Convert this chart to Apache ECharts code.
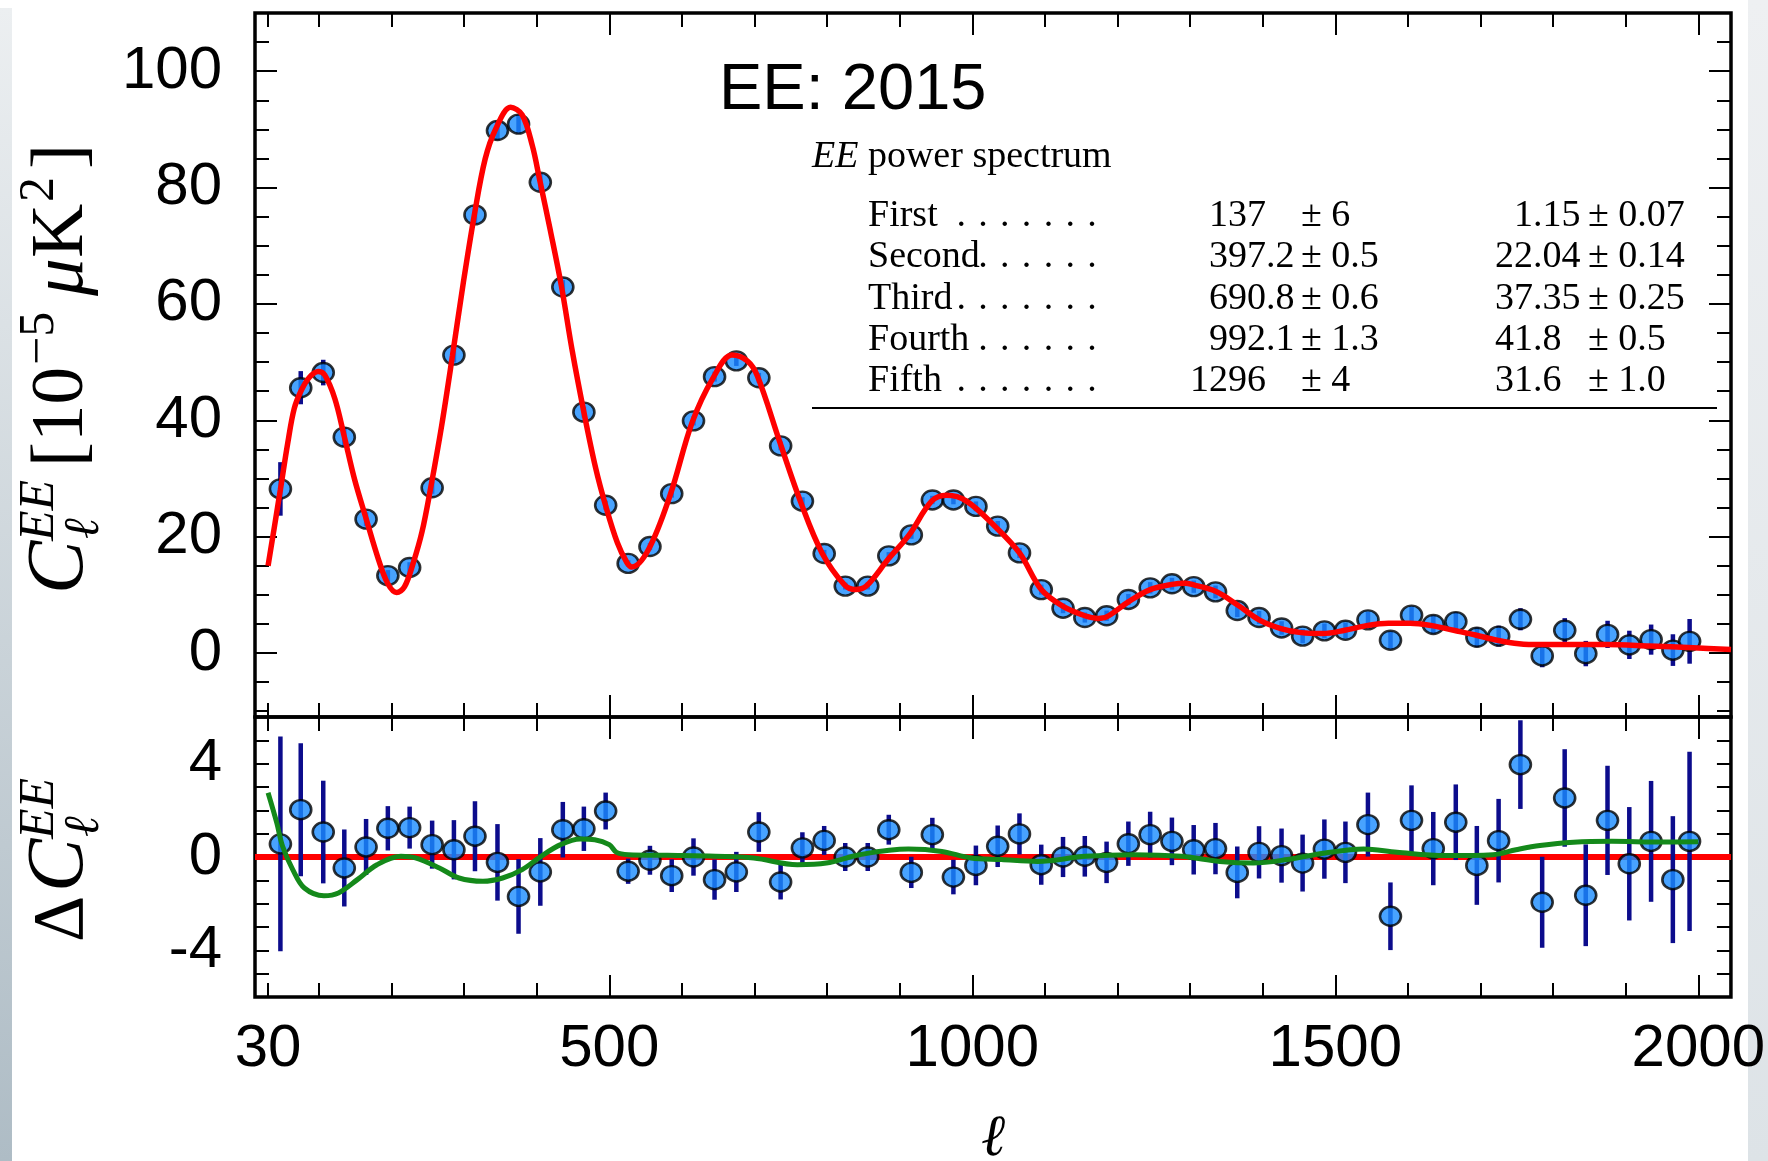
<!DOCTYPE html>
<html>
<head>
<meta charset="utf-8">
<title>EE: 2015</title>
<script src="https://cdn.jsdelivr.net/npm/echarts@6/dist/echarts.min.js"></script>
<style>
  html, body { margin: 0; padding: 0; background: #fff; }
  #chart { width: 1768px; height: 1161px; }
</style>
</head>
<body>
<div id="chart"></div>
<script>
// binned EE band powers
const ell = [47, 75, 106, 135, 165, 195, 225, 256, 286, 315, 346, 375, 405, 436, 465, 495, 526, 556, 586, 616,
  645, 675, 706, 736, 766, 796, 825, 856, 885, 916, 945, 974, 1005, 1035, 1065, 1095, 1125, 1155, 1185, 1215,
  1245, 1275, 1305, 1335, 1365, 1395, 1426, 1455, 1485, 1514, 1545, 1576, 1605, 1635, 1666, 1695, 1725, 1755, 1785, 1816,
  1845, 1875, 1905, 1935, 1965, 1988];
const clEE = [28.2, 45.6, 48.2, 37.1, 23.0, 13.3, 14.7, 28.4, 51.2, 75.3, 89.8, 90.9, 80.9, 62.9, 41.4, 25.4, 15.4, 18.3, 27.4, 39.9,
  47.5, 50.2, 47.3, 35.6, 26.1, 17.1, 11.5, 11.5, 16.7, 20.3, 26.3, 26.3, 25.2, 21.8, 17.2, 10.9, 7.7, 6.1, 6.4, 9.2,
  11.2, 11.9, 11.4, 10.5, 7.3, 6.1, 4.3, 2.9, 3.8, 3.9, 5.7, 2.2, 6.5, 4.9, 5.4, 2.7, 2.9, 5.8, -0.5, 3.9,
  -0.1, 3.2, 1.4, 2.3, 0.5, 2.0];
const clErr = [4.6, 2.85, 2.2, 1.65, 1.2, 0.95, 0.9, 1.03, 1.27, 1.5, 1.64, 1.6, 1.45, 1.19, 0.95, 0.79, 0.54, 0.62, 0.7, 0.8,
  0.86, 0.86, 0.85, 0.75, 0.67, 0.62, 0.6, 0.6, 0.64, 0.67, 0.72, 0.74, 0.85, 0.89, 0.88, 0.86, 0.86, 0.87, 0.89, 0.95,
  0.98, 1.02, 1.06, 1.1, 1.11, 1.12, 1.16, 1.22, 1.27, 1.32, 1.37, 1.45, 1.5, 1.57, 1.62, 1.69, 1.79, 1.9, 1.95, 2.09,
  2.18, 2.34, 2.43, 2.59, 2.72, 3.84];
const dClEE = [0.56, 2.03, 1.07, -0.47, 0.43, 1.23, 1.26, 0.53, 0.31, 0.89, -0.23, -1.69, -0.64, 1.17, 1.21, 1.97, -0.61, -0.14, -0.8, 0,
  -0.97, -0.64, 1.07, -1.07, 0.39, 0.71, 0, 0, 1.17, -0.66, 0.96, -0.86, -0.36, 0.46, 0.99, -0.33, 0, 0.03, -0.23, 0.57,
  0.96, 0.67, 0.31, 0.36, -0.66, 0.2, 0.06, -0.26, 0.34, 0.2, 1.39, -2.54, 1.57, 0.36, 1.49, -0.36, 0.7, 3.96, -1.94, 2.53,
  -1.64, 1.57, -0.29, 0.67, -0.97, 0.67];

// best-fit model (red) and the green residual curve
const modelEll = [30, 39, 47, 57, 66, 76, 87, 99, 108, 122, 135, 149, 165, 182, 195, 207, 218, 230, 242, 254,
  269, 284, 299, 314, 329, 344, 364, 380, 394, 404, 419, 434, 449, 465, 481, 495, 511, 524, 531, 554,
  584, 614, 643, 669, 690, 704, 735, 764, 793, 824, 839, 854, 884, 913, 944, 965, 992, 1031, 1065, 1095,
  1125, 1155, 1173, 1185, 1215, 1245, 1275, 1293, 1305, 1335, 1365, 1395, 1425, 1453, 1483, 1513, 1543, 1573, 1603, 1633,
  1663, 1693, 1723, 1753, 1783, 1813, 1873, 1933, 1993, 2045];
const modelCl = [15.0, 21.9, 28.1, 36, 42, 45.2, 47.4, 48.4, 47.8, 43.7, 37.2, 29.9, 23.1, 16.1, 11.9, 10.4, 11.4, 15.5, 20.8, 28.4,
  39, 51.1, 63.7, 75.2, 84.9, 90.2, 93.8, 92.5, 87.2, 81.4, 72.5, 63.1, 51.9, 41.4, 31.9, 25.3, 19.0, 15.6, 14.8, 17.8,
  27.2, 39.6, 47.3, 51.2, 50.2, 47.6, 36.2, 25.8, 17.2, 11.7, 10.9, 11.5, 16.1, 20.3, 26.1, 27.1, 26.1, 21.8, 17.2, 10.9,
  8.0, 6.4, 5.95, 6.2, 8.8, 10.9, 11.8, 12.0, 11.7, 10.6, 8.3, 5.7, 4.2, 3.5, 3.35, 3.9, 4.7, 5.1, 5.1, 4.7,
  3.9, 3.1, 2.2, 1.6, 1.45, 1.45, 1.45, 1.2, 0.9, 0.6];
const greenEll = [30, 42, 50, 64, 80, 107, 127, 153, 180, 213, 233, 266, 293, 326, 353, 380, 406, 433, 460, 480,
  500, 510, 526, 580, 646, 699, 759, 799, 845, 912, 958, 998, 1040, 1090, 1156, 1222, 1288, 1341, 1387, 1434,
  1486, 1539, 1585, 1651, 1717, 1749, 1782, 1828, 1881, 1947, 2000];
const greenDelta = [2.75, 1.46, 0.46, -0.54, -1.33, -1.66, -1.54, -0.97, -0.33, 0.03, -0.04, -0.47, -0.9, -1.04, -0.9, -0.54, 0.03, 0.53, 0.77, 0.74,
  0.53, 0.2, 0.1, 0.07, 0.03, -0.04, -0.33, -0.26, 0.1, 0.34, 0.24, -0.04, -0.11, -0.19, 0.03, 0.1, 0.03, -0.19, -0.26, -0.11,
  0.17, 0.34, 0.2, 0.06, 0.1, 0.31, 0.49, 0.63, 0.67, 0.64, 0.65];

// ticks and labels
const xLabels = [30, 500, 1000, 1500, 2000];
const xMajorTicks = [500, 1000, 1500, 2000];
const xMinorTicks = [30, 100, 200, 300, 400, 600, 700, 800, 900, 1100, 1200, 1300, 1400, 1600, 1700, 1800, 1900];
const yTopMajor = [0, 20, 40, 60, 80, 100];
const yTopMinor = [-10, -5, 5, 10, 15, 25, 30, 35, 45, 50, 55, 65, 70, 75, 85, 90, 95, 105];
const yBotTicks = [-5, -4, -3, -2, -1, 0, 1, 2, 3, 4, 5];
const yBotLabels = [-4, 0, 4];

// peak table
const peakNames = ['First', 'Second', 'Third', 'Fourth', 'Fifth'];
const peakDots = [7, 6, 7, 6, 7];
const peakEll = ['137', '397.2', '690.8', '992.1', '1296'];
const peakEllErr = ['6', '0.5', '0.6', '1.3', '4'];
const peakAmp = ['1.15', '22.04', '37.35', '41.8', '31.6'];
const peakAmpErr = ['0.07', '0.14', '0.25', '0.5', '1.0'];

const xMin = 12, xMax = 2045;
const SANS = '"Liberation Sans", Arial, sans-serif';
const SERIF = '"Liberation Serif", "DejaVu Serif", serif';
const tickStyle = { color: '#000', width: 2 };
const plain = v => String(v);

function xAxisDef(gridIndex, position, ticks, len, labels) {
  return {
    type: 'value', gridIndex, position, min: xMin, max: xMax,
    axisLine: { show: false, onZero: false },
    axisTick: { show: true, inside: true, length: len, customValues: ticks, lineStyle: tickStyle },
    axisLabel: labels
      ? { show: true, customValues: labels, formatter: plain, margin: 22, color: '#000', fontSize: 60, fontFamily: SANS }
      : { show: false },
    splitLine: { show: false }
  };
}

function yAxisDef(gridIndex, position, min, max, ticks, len, labels) {
  return {
    type: 'value', gridIndex, position, min, max,
    axisLine: { show: false, onZero: false },
    axisTick: { show: true, inside: true, length: len, customValues: ticks, lineStyle: tickStyle },
    axisLabel: labels
      ? { show: true, customValues: labels, formatter: plain, margin: 33, color: '#000', fontSize: 60, fontFamily: SANS }
      : { show: false },
    splitLine: { show: false }
  };
}

function errorBars(params, api) {
  const x = api.value(0), y = api.value(1), e = api.value(2);
  const top = api.coord([x, y + e]);
  const bot = api.coord([x, y - e]);
  return {
    type: 'line',
    shape: { x1: top[0], y1: top[1], x2: bot[0], y2: bot[1] },
    style: { stroke: '#0c0c8c', lineWidth: 4.5 }
  };
}

const pointStyle = { color: '#1a8cff', borderColor: '#000', borderWidth: 2.5 };

// rotated axis titles built from pieces (main text, super- and subscripts)
function mathLabel(x, y, pieces) {
  return {
    type: 'group', x, y, rotation: Math.PI / 2,
    children: pieces.map(p => ({
      type: 'text', x: p.dx, y: p.base - 0.34 * p.size,
      style: {
        text: p.t, font: (p.italic ? 'italic ' : '') + p.size + 'px ' + SERIF,
        fill: '#000', textAlign: 'left', textVerticalAlign: 'middle', align: 'left', verticalAlign: 'middle'
      }
    }))
  };
}

const graphics = [
  {
    type: 'rect', z: -10, shape: { x: 0, y: 8, width: 12, height: 1153 },
    style: { fill: new echarts.graphic.LinearGradient(0, 0, 0, 1, [{ offset: 0, color: '#eceff1' }, { offset: 1, color: '#aebcc5' }]) }
  },
  {
    type: 'rect', z: -10, shape: { x: 1748, y: 0, width: 20, height: 1161 },
    style: { fill: new echarts.graphic.LinearGradient(0, 0, 0, 1, [{ offset: 0, color: '#eef0f2' }, { offset: 1, color: '#dde3e7' }]) }
  },
  {
    type: 'text', x: 719, y: 91,
    style: { text: 'EE: 2015', font: '65px ' + SANS, fill: '#000', textAlign: 'left', textVerticalAlign: 'middle', align: 'left', verticalAlign: 'middle' }
  },
  {
    type: 'text', x: 812, y: 157,
    style: {
      text: '{i|EE}{n| power spectrum}', fill: '#000', textAlign: 'left', textVerticalAlign: 'middle', align: 'left', verticalAlign: 'middle',
      rich: { i: { font: 'italic 38px ' + SERIF, fill: '#000' }, n: { font: '38px ' + SERIF, fill: '#000' } }
    }
  },
  {
    type: 'line', shape: { x1: 812, y1: 408, x2: 1717, y2: 408 }, style: { stroke: '#000', lineWidth: 2 }
  },
  {
    type: 'text', x: 993, y: 1140,
    style: { text: 'ℓ', font: 'italic 58px ' + SERIF, fill: '#000', textAlign: 'center', textVerticalAlign: 'middle', align: 'center', verticalAlign: 'middle' }
  },
  mathLabel(88, 594, [
    { t: 'C', size: 80, italic: true, dx: 0, base: 0 },
    { t: 'EE', size: 50, italic: true, dx: 53, base: -31 },
    { t: 'ℓ', size: 50, italic: true, dx: 55, base: 14 },
    { t: '[10', size: 75, dx: 127, base: 0 },
    { t: '−5', size: 50, dx: 229, base: -31 },
    { t: 'μ', size: 75, italic: true, dx: 298, base: 0 },
    { t: 'K', size: 75, dx: 336, base: 0 },
    { t: '2', size: 50, dx: 392, base: -31 },
    { t: ']', size: 75, dx: 425, base: 0 }
  ]),
  mathLabel(88, 942, [
    { t: 'Δ', size: 72, dx: 0, base: 0 },
    { t: 'C', size: 80, italic: true, dx: 50, base: 0 },
    { t: 'EE', size: 50, italic: true, dx: 103, base: -31 },
    { t: 'ℓ', size: 50, italic: true, dx: 105, base: 14 }
  ])
];

const rowY = [216, 257, 299, 340, 381];
const tableFont = '38px ' + SERIF;
function tableText(x, y, text, align) {
  return {
    type: 'text', x, y,
    style: { text, font: tableFont, fill: '#000', textAlign: align, textVerticalAlign: 'middle', align, verticalAlign: 'middle' }
  };
}
peakNames.forEach((name, i) => {
  const y = rowY[i];
  graphics.push(tableText(868, y, name, 'left'));
  const n = peakDots[i];
  for (let k = 0; k < n; k++) {
    graphics.push(tableText(1092 - (n - 1 - k) * 21.8, y, '.', 'center'));
  }
  const e = peakEll[i].split('.');
  graphics.push(tableText(1266, y, e[0], 'right'));
  if (e[1]) graphics.push(tableText(1266, y, '.' + e[1], 'left'));
  graphics.push(tableText(1301, y, '± ' + peakEllErr[i], 'left'));
  const a = peakAmp[i].split('.');
  graphics.push(tableText(1533, y, a[0], 'right'));
  if (a[1]) graphics.push(tableText(1533, y, '.' + a[1], 'left'));
  graphics.push(tableText(1588, y, '± ' + peakAmpErr[i], 'left'));
});

const chart = echarts.init(document.getElementById('chart'));
chart.setOption({
  animation: false,
  backgroundColor: '#ffffff',
  grid: [
    { left: 255, top: 13, width: 1476, height: 704, show: true, borderColor: '#000', borderWidth: 3.5, backgroundColor: 'rgba(0,0,0,0)' },
    { left: 255, top: 717, width: 1476, height: 280, show: true, borderColor: '#000', borderWidth: 3.5, backgroundColor: 'rgba(0,0,0,0)' }
  ],
  xAxis: [
    xAxisDef(0, 'bottom', xMajorTicks, 22, null),
    xAxisDef(0, 'bottom', xMinorTicks, 14, null),
    xAxisDef(0, 'top', xMajorTicks, 22, null),
    xAxisDef(0, 'top', xMinorTicks, 14, null),
    xAxisDef(1, 'bottom', xMajorTicks, 22, xLabels),
    xAxisDef(1, 'bottom', xMinorTicks, 14, null),
    xAxisDef(1, 'top', xMajorTicks, 22, null),
    xAxisDef(1, 'top', xMinorTicks, 14, null)
  ],
  yAxis: [
    yAxisDef(0, 'left', -11, 110, yTopMajor, 22, yTopMajor),
    yAxisDef(0, 'left', -11, 110, yTopMinor, 14, null),
    yAxisDef(0, 'right', -11, 110, yTopMajor, 22, null),
    yAxisDef(0, 'right', -11, 110, yTopMinor, 14, null),
    yAxisDef(1, 'left', -6, 6, yBotTicks, 14, yBotLabels),
    yAxisDef(1, 'right', -6, 6, yBotTicks, 14, null)
  ],
  series: [
    {
      type: 'line', xAxisIndex: 0, yAxisIndex: 0, smooth: 0.35, showSymbol: false, clip: true,
      data: modelEll.map((l, i) => [l, modelCl[i]]),
      lineStyle: { color: '#ff0000', width: 5.5 }
    },
    {
      type: 'custom', xAxisIndex: 0, yAxisIndex: 0, clip: true, renderItem: errorBars,
      data: ell.map((l, i) => [l, clEE[i], clErr[i]])
    },
    {
      type: 'scatter', xAxisIndex: 0, yAxisIndex: 0, symbol: 'circle', symbolSize: [21, 19],
      data: ell.map((l, i) => [l, clEE[i]]), itemStyle: pointStyle
    },
    {
      type: 'line', xAxisIndex: 4, yAxisIndex: 4, data: [], showSymbol: false,
      markLine: {
        silent: true, symbol: 'none', z: 1, label: { show: false },
        lineStyle: { color: '#ff0000', width: 6, type: 'solid' },
        data: [{ yAxis: 0 }]
      }
    },
    {
      type: 'line', xAxisIndex: 4, yAxisIndex: 4, smooth: 0.35, showSymbol: false, clip: true,
      data: greenEll.map((l, i) => [l, greenDelta[i]]),
      lineStyle: { color: '#14891a', width: 5 }
    },
    {
      type: 'custom', xAxisIndex: 4, yAxisIndex: 4, clip: true, renderItem: errorBars,
      data: ell.map((l, i) => [l, dClEE[i], clErr[i]])
    },
    {
      type: 'scatter', xAxisIndex: 4, yAxisIndex: 4, symbol: 'circle', symbolSize: [21, 19],
      data: ell.map((l, i) => [l, dClEE[i]]), itemStyle: pointStyle
    }
  ],
  graphic: { elements: graphics }
});
</script>
</body>
</html>
